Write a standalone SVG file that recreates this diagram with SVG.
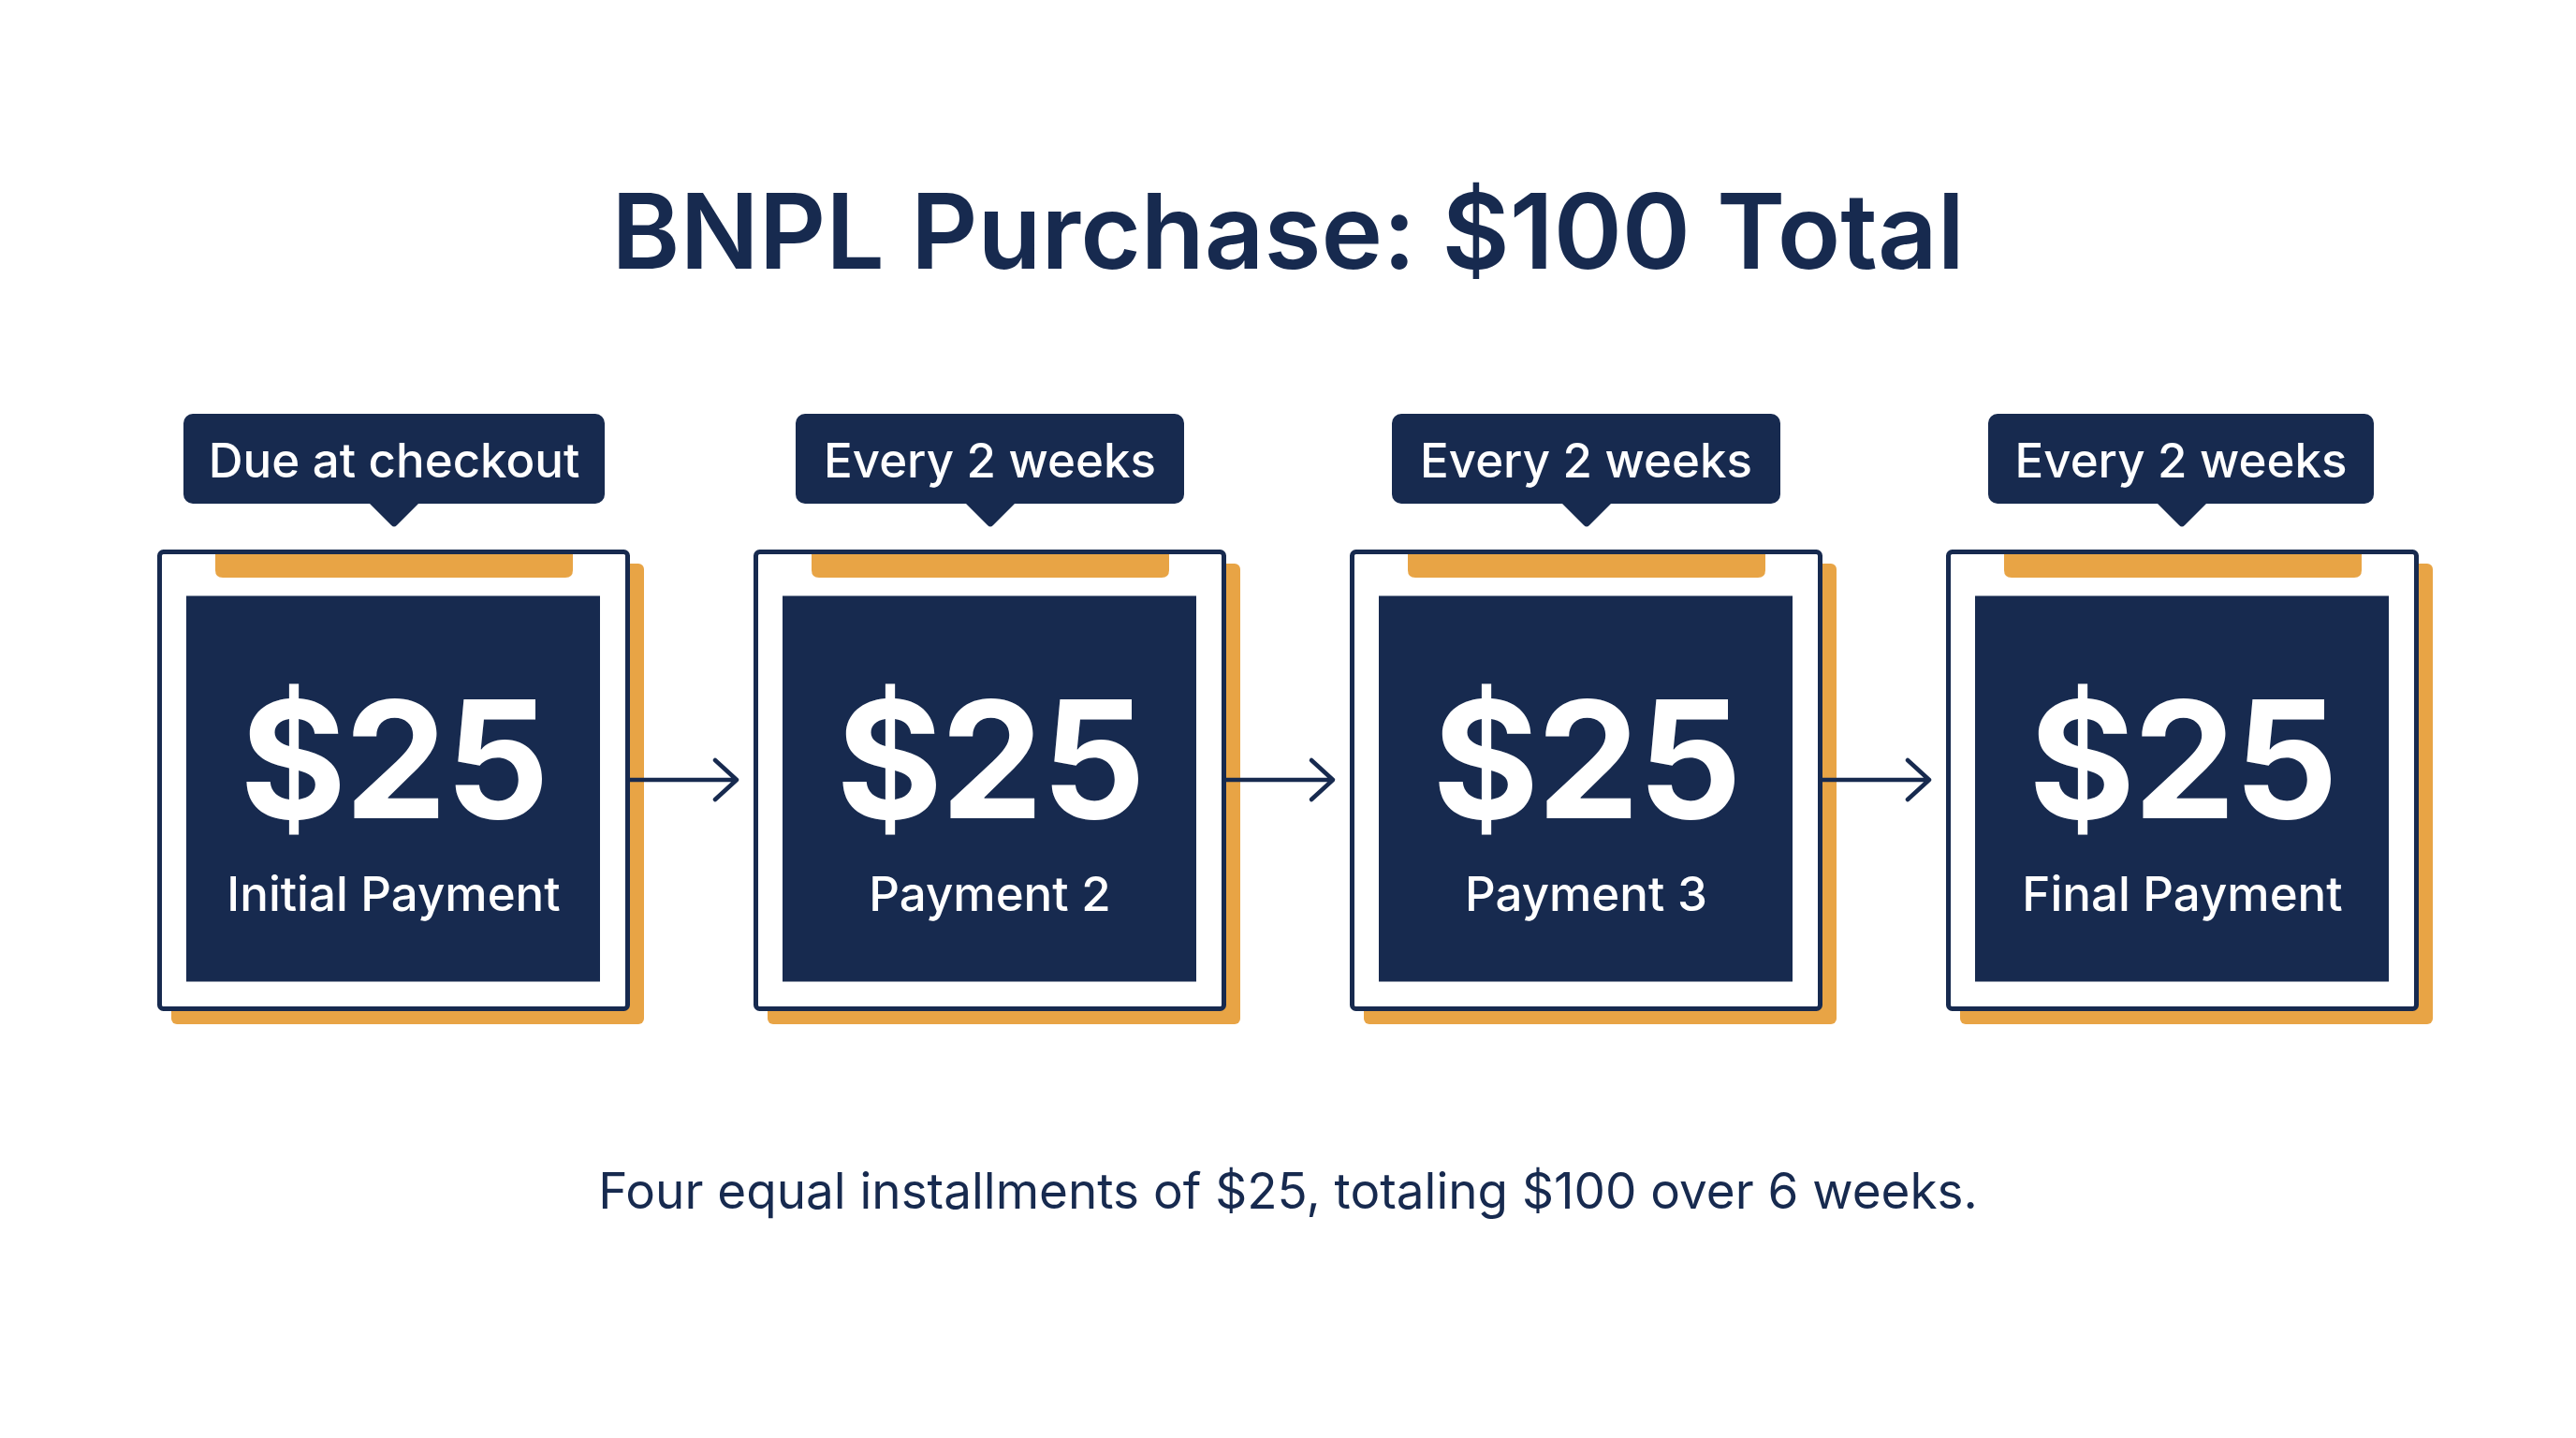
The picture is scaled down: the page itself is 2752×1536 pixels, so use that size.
<svg xmlns="http://www.w3.org/2000/svg" width="2752" height="1536" viewBox="0 0 2752 1536">
  <defs>
    <style>
      .t { font-family: Inter, "Liberation Sans", sans-serif; text-anchor: middle; }
      .title { font-size: 111px; font-weight: 600; fill: #172a4f; }
      .sub { font-size: 53px; font-weight: 400; fill: #172a4f; }
      .tipbox { fill: #172a4f; }
      .tiptext { font-size: 51px; font-weight: 500; fill: #ffffff; }
      .shadow { fill: #e8a445; }
      .tab { fill: #e8a445; }
      .card { fill: #ffffff; stroke: #172a4f; stroke-width: 5; }
      .inner { fill: #172a4f; }
      .amt { font-size: 174px; font-weight: 700; fill: #ffffff; letter-spacing: -2px; }
      .lbl { font-size: 51px; font-weight: 500; fill: #ffffff; }
      .conn { fill: none; stroke: #172a4f; stroke-width: 4.5; stroke-linecap: round; stroke-linejoin: round; }
    </style>
  </defs>
  <rect x="0" y="0" width="2752" height="1536" fill="#ffffff"/>
  <text class="t title" x="1376" y="287">BNPL Purchase: $100 Total</text>

  <g id="node1">
    <rect class="tipbox" x="196" y="442" width="450" height="96" rx="10"/>
    <path class="tipbox" d="M394,537 L418,561 Q421,564 424,561 L448,537 Z"/>
    <text class="t tiptext" x="421" y="510">Due at checkout</text>
    <rect class="shadow" x="183" y="602" width="505" height="492" rx="6"/>
    <rect class="card" x="170.5" y="589.5" width="500" height="488" rx="4"/>
    <path class="tab" d="M230,592 H612 V609 Q612,617 604,617 H238 Q230,617 230,609 Z"/>
    <rect class="inner" x="199" y="636.5" width="442" height="412"/>
    <text class="t amt" x="420.5" y="874">$25</text>
    <text class="t lbl" x="420.5" y="973">Initial Payment</text>
  </g>

  <g id="node2">
    <rect class="tipbox" x="850" y="442" width="415" height="96" rx="10"/>
    <path class="tipbox" d="M1031,537 L1055,561 Q1058,564 1061,561 L1085,537 Z"/>
    <text class="t tiptext" x="1057.5" y="510">Every 2 weeks</text>
    <rect class="shadow" x="820" y="602" width="505" height="492" rx="6"/>
    <rect class="card" x="807.5" y="589.5" width="500" height="488" rx="4"/>
    <path class="tab" d="M867,592 H1249 V609 Q1249,617 1241,617 H875 Q867,617 867,609 Z"/>
    <rect class="inner" x="836" y="636.5" width="442" height="412"/>
    <text class="t amt" x="1057.5" y="874">$25</text>
    <text class="t lbl" x="1057.5" y="973">Payment 2</text>
  </g>

  <g id="node3">
    <rect class="tipbox" x="1487" y="442" width="415" height="96" rx="10"/>
    <path class="tipbox" d="M1668,537 L1692,561 Q1695,564 1698,561 L1722,537 Z"/>
    <text class="t tiptext" x="1694.5" y="510">Every 2 weeks</text>
    <rect class="shadow" x="1457" y="602" width="505" height="492" rx="6"/>
    <rect class="card" x="1444.5" y="589.5" width="500" height="488" rx="4"/>
    <path class="tab" d="M1504,592 H1886 V609 Q1886,617 1878,617 H1512 Q1504,617 1504,609 Z"/>
    <rect class="inner" x="1473" y="636.5" width="442" height="412"/>
    <text class="t amt" x="1694.5" y="874">$25</text>
    <text class="t lbl" x="1694.5" y="973">Payment 3</text>
  </g>

  <g id="node4">
    <rect class="tipbox" x="2124" y="442" width="412" height="96" rx="10"/>
    <path class="tipbox" d="M2304,537 L2328,561 Q2331,564 2334,561 L2358,537 Z"/>
    <text class="t tiptext" x="2330" y="510">Every 2 weeks</text>
    <rect class="shadow" x="2094" y="602" width="505" height="492" rx="6"/>
    <rect class="card" x="2081.5" y="589.5" width="500" height="488" rx="4"/>
    <path class="tab" d="M2141,592 H2523 V609 Q2523,617 2515,617 H2149 Q2141,617 2141,609 Z"/>
    <rect class="inner" x="2110" y="636.5" width="442" height="412"/>
    <text class="t amt" x="2331.5" y="874">$25</text>
    <text class="t lbl" x="2331.5" y="973">Final Payment</text>
  </g>

  <g id="connectors">
    <path class="conn" d="M673,833 H787 M764,812 L787,833 L764,854"/>
    <path class="conn" d="M1310,833 H1424 M1401,812 L1424,833 L1401,854"/>
    <path class="conn" d="M1947,833 H2061 M2038,812 L2061,833 L2038,854"/>
  </g>

  <text class="t sub" x="1376" y="1291">Four equal installments of $25, totaling $100 over 6 weeks.</text>
</svg>
